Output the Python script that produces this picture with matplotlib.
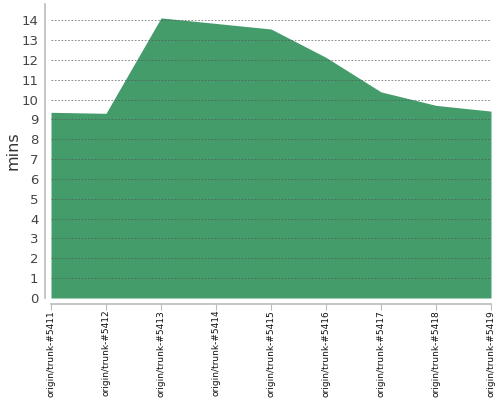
import matplotlib
matplotlib.use("Agg")
import matplotlib.pyplot as plt

builds = ["origin/trunk-#5411", "origin/trunk-#5412", "origin/trunk-#5413",
          "origin/trunk-#5414", "origin/trunk-#5415", "origin/trunk-#5416",
          "origin/trunk-#5417", "origin/trunk-#5418", "origin/trunk-#5419"]
minutes = [9.36, 9.31, 14.12, 13.84, 13.56, 12.13, 10.39, 9.71, 9.42]
yticks = list(range(0, 15))

fig = plt.figure(figsize=(5, 4), dpi=100)
ax = fig.add_axes([0.102, 0.255, 0.88, 0.735])

x = list(range(len(builds)))
ax.fill_between(x, 0, minutes, color="#449c6b", linewidth=0, zorder=1)

ax.set_xlim(0, len(builds) - 1)
ax.set_ylim(0, 14.82)
ax.set_yticks(yticks)
ax.set_xticks(x)
ax.set_xticklabels(builds)
ax.tick_params(axis="x", labelrotation=90, labelsize=6.5, labelcolor="#111111",
               length=4, color="#bbbbbb", pad=0.5)
ax.tick_params(axis="y", length=0, labelsize=9.5, labelcolor="#444444", pad=5)

ax.yaxis.grid(True, linestyle=(0, (2, 2)), color="#555555", linewidth=0.6, alpha=0.8)
ax.set_axisbelow(False)
for gl in ax.get_ygridlines():
    gl.set_zorder(3)

for s in ["top", "right"]:
    ax.spines[s].set_visible(False)
for s in ["left", "bottom"]:
    ax.spines[s].set_color("#bbbbbb")
    ax.spines[s].set_linewidth(1.2)
    ax.spines[s].set_position(("outward", 4))

ax.set_ylabel("mins", fontsize=11.5, color="#333333", va="center")
ax.yaxis.set_label_coords(-0.086, 0.5)

fig.savefig("out.png", dpi=100)
